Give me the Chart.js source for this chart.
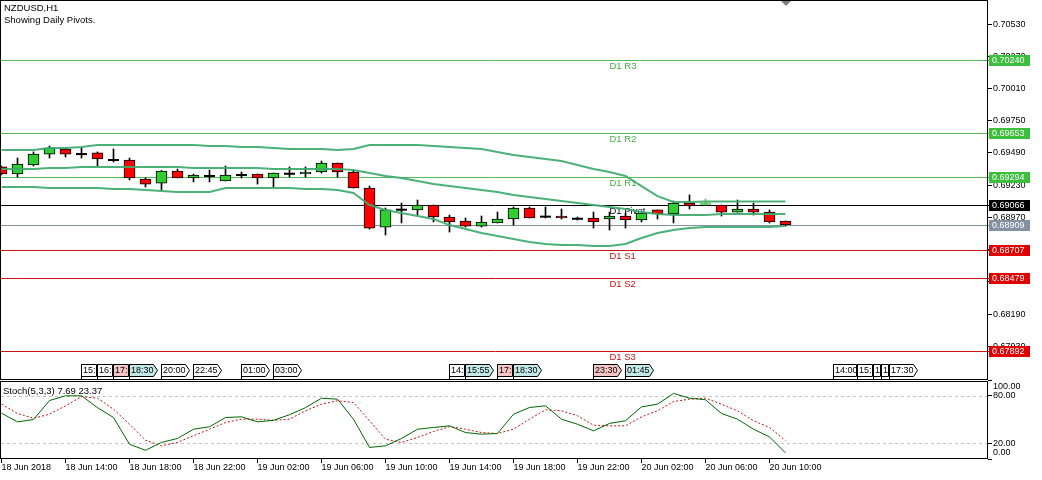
<!DOCTYPE html>
<html>
<head>
<meta charset="utf-8">
<title>NZDUSD,H1</title>
<script src="https://cdn.jsdelivr.net/npm/chart.js@4.4.1/dist/chart.umd.min.js"></script>
<style>
    html, body { margin: 0; padding: 0; background: #fff; }
    #wrap { position: relative; width: 1042px; height: 480px; overflow: hidden; }
    #main { position: absolute; left: 0; top: 0; }
    #stoch { position: absolute; left: 0; top: 380px; }
</style>
</head>
<body>
<div id="wrap">
    <canvas id="main" width="1042" height="380"></canvas>
    <canvas id="stoch" width="1042" height="100"></canvas>
</div>
<script>
'use strict';

// --- DATOS (velas H1, 18 Jun 10:00 -> 20 Jun 11:00) ---
const openPrices = [0.69377,0.69320,0.69393,0.69481,0.69522,0.69481,0.69490,0.69433,0.69433,0.69280,
    0.69247,0.69344,0.69288,0.69304,0.69264,0.69312,0.69320,0.69288,0.69322,0.69320,
    0.69336,0.69409,0.69336,0.69207,0.68892,0.69032,0.69030,0.69070,0.68973,0.68941,
    0.68900,0.68925,0.68957,0.69046,0.68976,0.68981,0.68959,0.68965,0.68957,0.68981,
    0.68949,0.69030,0.68997,0.69086,0.69078,0.69070,0.69013,0.69038,0.69013,0.68941];
const highPrices = [0.69385,0.69449,0.69498,0.69546,0.69530,0.69530,0.69498,0.69522,0.69449,0.69288,
    0.69348,0.69360,0.69320,0.69352,0.69385,0.69336,0.69320,0.69328,0.69377,0.69377,
    0.69425,0.69409,0.69352,0.69223,0.69046,0.69086,0.69110,0.69070,0.68989,0.68965,
    0.68981,0.69013,0.69054,0.69054,0.69054,0.69038,0.68973,0.69013,0.69013,0.69005,
    0.69005,0.69030,0.69102,0.69151,0.69118,0.69070,0.69110,0.69086,0.69030,0.68941];
const lowPrices = [0.69312,0.69296,0.69385,0.69449,0.69457,0.69449,0.69385,0.69417,0.69272,0.69215,
    0.69191,0.69288,0.69256,0.69256,0.69264,0.69288,0.69239,0.69215,0.69296,0.69296,
    0.69328,0.69296,0.69207,0.68876,0.68828,0.68925,0.68989,0.68933,0.68852,0.68892,
    0.68892,0.68925,0.68908,0.68965,0.68965,0.68957,0.68949,0.68884,0.68868,0.68884,
    0.68933,0.68957,0.68925,0.69038,0.69070,0.68981,0.69013,0.68989,0.68925,0.68900];
const closePrices = [0.69320,0.69401,0.69481,0.69530,0.69481,0.69481,0.69441,0.69433,0.69288,0.69239,
    0.69344,0.69288,0.69312,0.69304,0.69312,0.69312,0.69288,0.69328,0.69322,0.69336,
    0.69409,0.69336,0.69207,0.68884,0.69030,0.69032,0.69070,0.68973,0.68933,0.68900,
    0.68933,0.68957,0.69046,0.68965,0.68976,0.68965,0.68959,0.68933,0.68981,0.68949,
    0.69005,0.68997,0.69086,0.69062,0.69080,0.69013,0.69038,0.69013,0.68933,0.68909];

// Bandas de Bollinger
const bbUpper = [0.69514,0.69514,0.69514,0.69530,0.69530,0.69538,0.69554,0.69554,0.69554,0.69554,
    0.69554,0.69554,0.69554,0.69546,0.69546,0.69538,0.69538,0.69530,0.69522,0.69522,
    0.69522,0.69514,0.69522,0.69554,0.69554,0.69554,0.69554,0.69546,0.69538,0.69530,
    0.69522,0.69498,0.69473,0.69457,0.69441,0.69425,0.69393,0.69360,0.69336,0.69304,
    0.69223,0.69142,0.69094,0.69094,0.69098,0.69098,0.69098,0.69098,0.69098,0.69098];
const bbMiddle = [0.69360,0.69360,0.69360,0.69368,0.69368,0.69377,0.69377,0.69377,0.69377,0.69377,
    0.69377,0.69377,0.69368,0.69368,0.69368,0.69368,0.69368,0.69360,0.69360,0.69360,
    0.69360,0.69360,0.69352,0.69328,0.69304,0.69288,0.69264,0.69239,0.69223,0.69207,
    0.69191,0.69175,0.69151,0.69134,0.69118,0.69102,0.69086,0.69070,0.69054,0.69038,
    0.69013,0.68997,0.68989,0.68989,0.68989,0.68997,0.68997,0.68997,0.68997,0.68997];
const bbLower = [0.69215,0.69215,0.69215,0.69207,0.69207,0.69207,0.69207,0.69199,0.69199,0.69191,
    0.69183,0.69175,0.69175,0.69175,0.69207,0.69207,0.69207,0.69207,0.69207,0.69199,
    0.69199,0.69191,0.69167,0.69070,0.69030,0.69005,0.68981,0.68957,0.68908,0.68876,
    0.68844,0.68820,0.68796,0.68771,0.68755,0.68747,0.68747,0.68739,0.68739,0.68755,
    0.68804,0.68844,0.68868,0.68884,0.68892,0.68892,0.68892,0.68892,0.68892,0.68900];

// Estocástico (5,3,3)
const stochMain = [58,47,50,74,80,80,65,52.5,18.7,11,
    21,26,37.7,40.8,52.5,53.4,47,49,56,65,
    77,75.7,50.4,14.6,16.7,26,37.7,39.9,42,33.5,
    31.4,32.3,56.7,65.2,67.3,50.4,44,35.7,45,48.4,
    66,69.4,83,77,75,57.6,50.4,37.7,28,7.69];
const stochSignal = [69.4,57.6,51.6,56.7,67.3,79,77,63,44,23.8,
    16.7,21,29.4,37.7,46.2,50.4,50.4,49,50.4,61,
    69.4,73.7,71.5,48.4,25,21,27.2,34.8,41,37.7,
    33.5,32.3,37.7,50.4,62.3,61,54.7,42.8,42,42,
    53.4,61,72.8,75.7,77,69.4,61,48.4,39.9,23.37];

// Pivotes diarios
const pivotNames = ['D1 R3', 'D1 R2', 'D1 R1', 'D1 Pivot', 'D1 S1', 'D1 S2', 'D1 S3'];
const pivotValues = [0.70240, 0.69653, 0.69294, 0.69066, 0.68707, 0.68479, 0.67892];
const bidPrice = 0.68909;

// Ejes
const priceTicks = [0.70530, 0.70270, 0.70010, 0.69750, 0.69490, 0.69230, 0.68970, 0.68710, 0.68450, 0.68190, 0.67930];
const timeTickBars = [0, 4, 8, 12, 16, 20, 24, 28, 32, 36, 40, 44, 48];
const timeLabels = ['18 Jun 2018', '18 Jun 14:00', '18 Jun 18:00', '18 Jun 22:00', '19 Jun 02:00', '19 Jun 06:00',
    '19 Jun 10:00', '19 Jun 14:00', '19 Jun 18:00', '19 Jun 22:00', '20 Jun 02:00', '20 Jun 06:00', '20 Jun 10:00'];

// Eventos del calendario (posición en barras, texto, importancia 0/1/2)
const eventBars = [5, 6, 7, 8, 10, 12, 15, 17, 28, 29, 31, 32, 37, 39, 52, 53.5, 54.5, 55, 55.5];
const eventTexts = ['15:00', '16:00', '17:00', '18:30', '20:00', '22:45', '01:00', '03:00', '14:00', '15:55',
    '17:00', '18:30', '23:30', '01:45', '14:00', '15:30', '16:30', '17:00', '17:30'];
const eventLevels = [0, 0, 2, 1, 0, 0, 0, 0, 0, 1, 2, 1, 2, 1, 0, 0, 0, 0, 0];

// --- ESTILO ---
const FONT = '"Liberation Sans", Arial, sans-serif';
const X_MIN = -0.03125;
const X_MAX = X_MIN + 987 / 16;
const Y_MAX = 0.70716;
const Y_MIN = 0.67666;
const BAND = 'rgba(60, 170, 110, 0.92)';
const EVENT_FILL = ['#ffffff', '#c2e8e8', '#f6c6c6'];

const kindOf = name => name.includes('Pivot') ? 'p' : (name.includes(' R') ? 'r' : 's');
const lineColor = { r: '#55bb55', p: '#000000', s: '#cc1111' };
const labelColor = { r: '#44b044', p: '#000000', s: '#cc1111' };
const boxColor = { r: '#3cbf3c', p: '#000000', s: '#e00000' };

const bars = openPrices.map((o, i) => ({ i, o, h: highPrices[i], l: lowPrices[i], c: closePrices[i] }));
const isDoji = b => Math.abs(b.c - b.o) < 0.00003;

const bodies = bars.filter(b => !isDoji(b));
const dojis = bars.filter(isDoji);

// --- PLUGINS ---
function priceBox(ctx, py, text, fill) {
    ctx.fillStyle = fill;
    ctx.fillRect(989, Math.round(py) - 5, 41, 11);
    ctx.fillStyle = '#fff';
    ctx.font = '9px ' + FONT;
    ctx.textBaseline = 'middle';
    ctx.textAlign = 'left';
    ctx.fillText(text, 992, Math.round(py) + 0.5);
}

const mainDecor = {
    id: 'mainDecor',
    beforeDatasetsDraw(chart) {
        const { ctx, chartArea: a, scales: { x, y } } = chart;
        ctx.save();
        ctx.lineWidth = 1;
        pivotValues.forEach((v, k) => {
            const kind = kindOf(pivotNames[k]);
            const py = Math.round(y.getPixelForValue(v)) + 0.5;
            ctx.strokeStyle = lineColor[kind];
            ctx.beginPath();
            ctx.moveTo(a.left, py);
            ctx.lineTo(990, py);
            ctx.stroke();
            ctx.fillStyle = labelColor[kind];
            ctx.font = '9.5px ' + FONT;
            ctx.textBaseline = 'middle';
            ctx.fillText(pivotNames[k], x.getPixelForValue(38), py + 6);
        });
        const by = Math.round(y.getPixelForValue(bidPrice)) + 0.5;
        ctx.strokeStyle = '#8391a0';
        ctx.beginPath();
        ctx.moveTo(a.left, by);
        ctx.lineTo(990, by);
        ctx.stroke();
        ctx.restore();
    },
    afterDraw(chart) {
        const { ctx, chartArea: a, scales: { x, y } } = chart;
        ctx.save();
        // marco
        ctx.strokeStyle = '#000';
        ctx.lineWidth = 1;
        ctx.strokeRect(0.5, 0.5, 987, 379);

        // cajas de precio
        pivotValues.forEach((v, k) => priceBox(ctx, y.getPixelForValue(v), v.toFixed(5), boxColor[kindOf(pivotNames[k])]));
        priceBox(ctx, y.getPixelForValue(bidPrice), bidPrice.toFixed(5), '#8391a0');

        // títulos
        ctx.fillStyle = '#000';
        ctx.font = '9.5px ' + FONT;
        ctx.textBaseline = 'middle';
        ctx.fillText('NZDUSD,H1', 4, 8);
        ctx.fillText('Showing Daily Pivots.', 4, 20);

        // marcador de desplazamiento
        const sx = Math.round(x.getPixelForValue(openPrices.length - 1));
        ctx.fillStyle = '#808080';
        ctx.beginPath();
        ctx.moveTo(sx - 5, 1);
        ctx.lineTo(sx + 5, 1);
        ctx.lineTo(sx, 6);
        ctx.closePath();
        ctx.fill();

        // eventos
        const top = 364, bot = 376, base = a.bottom;
        const lefts = eventBars.map(t => Math.round(x.getPixelForValue(t)) - 1);
        lefts.forEach((x0, k) => {
            const next = k + 1 < lefts.length ? lefts[k + 1] : Infinity;
            const fits = x0 + 28 < next;
            const w = fits ? 24 : next - x0 - 1;
            ctx.beginPath();
            ctx.moveTo(x0 + 0.5, top + 0.5);
            ctx.lineTo(x0 + w + 0.5, top + 0.5);
            if (fits) ctx.lineTo(x0 + w + 4.5, (top + bot) / 2 + 0.5);
            ctx.lineTo(x0 + w + 0.5, bot + 0.5);
            ctx.lineTo(x0 + 0.5, bot + 0.5);
            ctx.closePath();
            ctx.fillStyle = EVENT_FILL[eventLevels[k]];
            ctx.fill();
            ctx.strokeStyle = '#000';
            ctx.stroke();
            ctx.beginPath();
            ctx.moveTo(x0 + 0.5, top);
            ctx.lineTo(x0 + 0.5, base);
            ctx.stroke();
            ctx.save();
            ctx.beginPath();
            ctx.rect(x0 + 1, top + 1, w - 1, bot - top - 1);
            ctx.clip();
            ctx.fillStyle = '#000';
            ctx.font = '9px ' + FONT;
            ctx.textBaseline = 'middle';
            ctx.fillText(eventTexts[k], x0 + 2, (top + bot) / 2 + 1);
            ctx.restore();
        });
        ctx.restore();
    }
};

const stochDecor = {
    id: 'stochDecor',
    beforeDatasetsDraw(chart) {
        const { ctx, chartArea: a, scales: { y } } = chart;
        ctx.save();
        ctx.strokeStyle = '#c4c4c4';
        ctx.lineWidth = 1;
        ctx.setLineDash([3, 3]);
        [20, 80].forEach(v => {
            const py = Math.round(y.getPixelForValue(v)) + 0.5;
            ctx.beginPath();
            ctx.moveTo(a.left, py);
            ctx.lineTo(a.right, py);
            ctx.stroke();
        });
        ctx.restore();
    },
    afterDraw(chart) {
        const { ctx } = chart;
        ctx.save();
        ctx.strokeStyle = '#000';
        ctx.lineWidth = 1;
        ctx.strokeRect(0.5, 1.5, 987, 77);
        ctx.fillStyle = '#000';
        ctx.font = '9.5px ' + FONT;
        ctx.textBaseline = 'middle';
        const last = stochMain.length - 1;
        ctx.fillText(`Stoch(5,3,3) ${stochMain[last].toFixed(2)} ${stochSignal[last].toFixed(2)}`, 3, 11);
        ctx.font = '9px ' + FONT;
        ctx.fillText('100.00', 993, 7);
        ctx.fillText('0.00', 993, 73);
        ctx.restore();
    }
};

// --- GRÁFICO PRINCIPAL ---
new Chart(document.getElementById('main'), {
    type: 'bar',
    data: {
        datasets: [
            { type: 'line', data: bbUpper.map((v, i) => ({ x: i, y: v })), borderColor: BAND, borderWidth: 2, pointRadius: 0, order: 0 },
            { type: 'line', data: bbMiddle.map((v, i) => ({ x: i, y: v })), borderColor: BAND, borderWidth: 2, pointRadius: 0, order: 0 },
            { type: 'line', data: bbLower.map((v, i) => ({ x: i, y: v })), borderColor: BAND, borderWidth: 2, pointRadius: 0, order: 0 },
            {
                type: 'scatter',
                data: dojis.map(b => ({ x: b.i, y: b.c })),
                pointStyle: 'line',
                pointRadius: 5.5,
                pointBorderWidth: 2,
                pointBorderColor: dojis.map(b => b.c > b.o ? '#5cc85c' : '#000'),
                order: 1
            },
            {
                type: 'bar',
                data: bodies.map(b => ({ x: b.i, y: [b.o, b.c] })),
                backgroundColor: bodies.map(b => b.c > b.o ? '#32cd32' : '#ff0000'),
                borderColor: '#000',
                borderWidth: 1,
                borderSkipped: false,
                barThickness: 11,
                grouped: false,
                order: 2
            },
            {
                type: 'bar',
                data: bars.map(b => ({ x: b.i, y: [b.l, b.h] })),
                backgroundColor: bars.map(b => isDoji(b) && b.c > b.o ? '#5cc85c' : '#000'),
                borderWidth: 0,
                barThickness: 1,
                grouped: false,
                order: 3
            }
        ]
    },
    options: {
        responsive: false,
        animation: false,
        events: [],
        layout: { autoPadding: false, padding: { left: 1, top: 1, right: 0, bottom: 1 } },
        plugins: { legend: { display: false }, tooltip: { enabled: false } },
        scales: {
            x: { type: 'linear', min: X_MIN, max: X_MAX, offset: false, display: false },
            y: {
                type: 'linear',
                position: 'right',
                min: Y_MIN,
                max: Y_MAX,
                afterBuildTicks: s => { s.ticks = priceTicks.map(v => ({ value: v })); },
                afterFit: s => { s.width = 54; s.paddingTop = 0; s.paddingBottom = 0; },
                ticks: { autoSkip: false, padding: 1, color: '#000', font: { family: FONT, size: 9 }, callback: v => v.toFixed(5) },
                grid: { drawOnChartArea: false, tickLength: 4, color: '#000' },
                border: { display: false }
            }
        }
    },
    plugins: [mainDecor]
});

// --- ESTOCÁSTICO ---
new Chart(document.getElementById('stoch'), {
    type: 'line',
    data: {
        datasets: [
            { data: stochMain.map((v, i) => ({ x: i, y: v })), borderColor: '#006400', borderWidth: 1, pointRadius: 0 },
            { data: stochSignal.map((v, i) => ({ x: i, y: v })), borderColor: '#cc1010', borderWidth: 1, borderDash: [2, 2], pointRadius: 0 }
        ]
    },
    options: {
        responsive: false,
        animation: false,
        events: [],
        layout: { autoPadding: false, padding: { left: 1, top: 0, right: 0, bottom: 0 } },
        plugins: { legend: { display: false }, tooltip: { enabled: false } },
        scales: {
            x: {
                type: 'linear',
                min: X_MIN,
                max: X_MAX,
                offset: false,
                afterBuildTicks: s => { s.ticks = timeTickBars.map(v => ({ value: v })); },
                afterFit: s => { s.height = 21; s.paddingLeft = 0; s.paddingRight = 0; },
                ticks: { autoSkip: false, maxRotation: 0, align: 'start', padding: -1, color: '#000', font: { family: FONT, size: 9 }, callback: (v, i) => timeLabels[i] },
                grid: { drawOnChartArea: false, tickLength: 4, color: '#000' },
                border: { display: false }
            },
            y: {
                type: 'linear',
                position: 'right',
                min: 0,
                max: 100,
                afterBuildTicks: s => { s.ticks = [0, 20, 80, 100].map(v => ({ value: v })); },
                afterFit: s => { s.width = 54; s.paddingTop = 0; s.paddingBottom = 0; },
                ticks: { autoSkip: false, padding: 1, color: '#000', font: { family: FONT, size: 9 }, callback: v => (v === 20 || v === 80) ? v.toFixed(2) : '' },
                grid: { drawOnChartArea: false, tickLength: 4, color: '#000' },
                border: { display: false }
            }
        }
    },
    plugins: [stochDecor]
});
</script>
</body>
</html>
